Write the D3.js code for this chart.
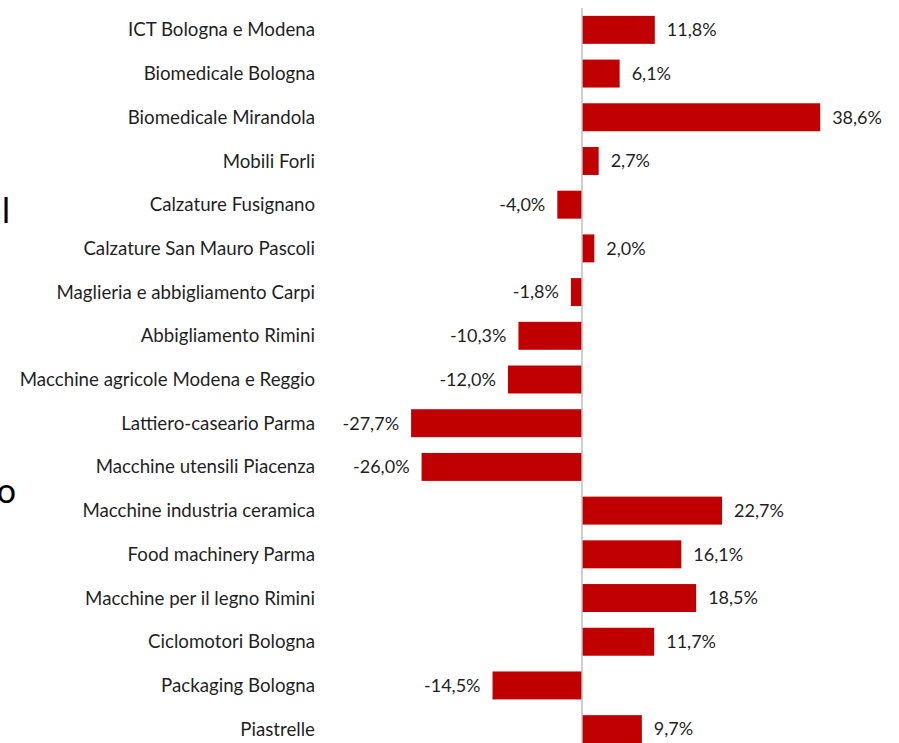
<!DOCTYPE html>
<html>
<head>
<meta charset="utf-8">
<script src="https://cdn.jsdelivr.net/npm/d3@7"></script>
<style>
  html, body { margin: 0; padding: 0; background: #fff; }
  svg { display: block; }
</style>
</head>
<body>
<div id="chart"></div>
<script>
const categories = [
  "ICT Bologna e Modena",
  "Biomedicale Bologna",
  "Biomedicale Mirandola",
  "Mobili Forli",
  "Calzature Fusignano",
  "Calzature San Mauro Pascoli",
  "Maglieria e abbigliamento Carpi",
  "Abbigliamento Rimini",
  "Macchine agricole Modena e Reggio",
  "Lattiero-caseario Parma",
  "Macchine utensili Piacenza",
  "Macchine industria ceramica",
  "Food machinery Parma",
  "Macchine per il legno Rimini",
  "Ciclomotori Bologna",
  "Packaging Bologna",
  "Piastrelle"
];
const values = [11.8, 6.1, 38.6, 2.7, -4.0, 2.0, -1.8, -10.3, -12.0, -27.7, -26.0, 22.7, 16.1, 18.5, 11.7, -14.5, 9.7];
const valueLabels = ["11,8%", "6,1%", "38,6%", "2,7%", "-4,0%", "2,0%", "-1,8%", "-10,3%", "-12,0%", "-27,7%", "-26,0%", "22,7%", "16,1%", "18,5%", "11,7%", "-14,5%", "9,7%"];
const sideFragments = ["al", "o"];

const W = 899, H = 743;
const svg = d3.select("#chart").append("svg").attr("width", W).attr("height", H);

const x = d3.scaleLinear().domain([-30, 40]).range([582 - 30 * 6.17, 582 + 40 * 6.17]);
const y = d3.scaleBand().domain(categories).range([8, 751]).paddingInner(0.36).paddingOuter(0.18);

const font = "Lato, 'Open Sans', sans-serif";
const textColor = "#1f1f1f";

// cut-off slide text fragments on the left
svg.append("text").attr("x", 10).attr("y", 223).attr("text-anchor", "end")
  .attr("font-family", font).attr("font-size", 34).attr("fill", "#000").text(sideFragments[0]);
svg.append("text").attr("x", 16).attr("y", 503).attr("text-anchor", "end")
  .attr("font-family", font).attr("font-size", 34).attr("fill", "#000").text(sideFragments[1]);

const data = categories.map((c, i) => ({ c, v: values[i], l: valueLabels[i] }));

svg.selectAll("rect.bar").data(data).enter().append("rect")
  .attr("class", "bar")
  .attr("x", d => Math.min(x(0), x(d.v)))
  .attr("y", d => y(d.c))
  .attr("width", d => Math.abs(x(d.v) - x(0)))
  .attr("height", y.bandwidth())
  .attr("fill", "#c00000");

// zero axis line
svg.append("line")
  .attr("x1", x(0)).attr("x2", x(0))
  .attr("y1", 8).attr("y2", H)
  .attr("stroke", "#bfbfbf").attr("stroke-width", 1.5);

// category labels
svg.selectAll("text.cat").data(data).enter().append("text")
  .attr("class", "cat")
  .attr("x", 315)
  .attr("y", d => y(d.c) + y.bandwidth() / 2)
  .attr("dy", "0.35em")
  .attr("text-anchor", "end")
  .attr("font-family", font).attr("font-size", 18.7)
  .attr("fill", textColor)
  .text(d => d.c);

// value labels
svg.selectAll("text.val").data(data).enter().append("text")
  .attr("class", "val")
  .attr("x", d => d.v >= 0 ? x(d.v) + 12 : x(d.v) - 12)
  .attr("y", d => y(d.c) + y.bandwidth() / 2)
  .attr("dy", "0.35em")
  .attr("text-anchor", d => d.v >= 0 ? "start" : "end")
  .attr("font-family", font).attr("font-size", 18)
  .attr("fill", textColor)
  .text(d => d.l);
</script>
</body>
</html>
